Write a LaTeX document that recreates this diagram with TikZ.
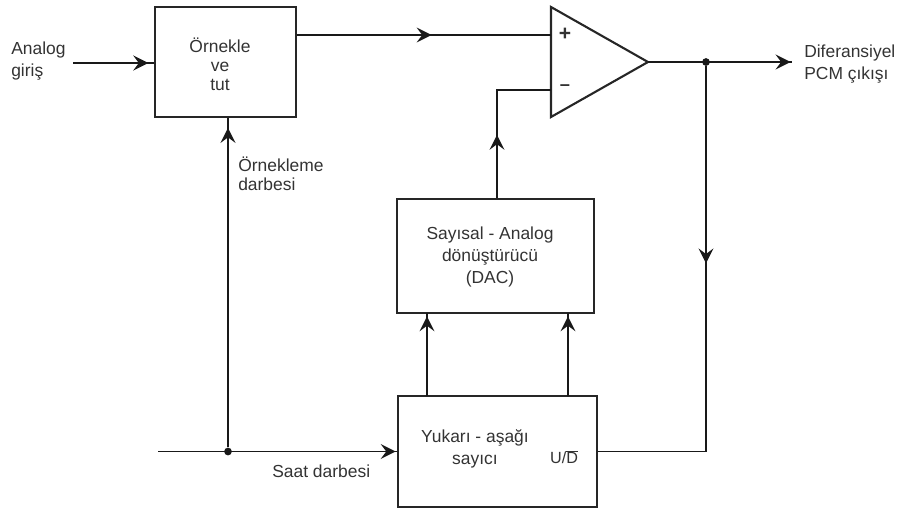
\documentclass[tikz,border=0pt]{standalone}
\usepackage{fontspec}
\setmainfont{Liberation Sans}
\usetikzlibrary{decorations.markings}
\tikzset{
  blok/.style={draw, line width=1.5pt, inner sep=0pt, black!85},
  etiket/.style={font=\fontsize{12.4pt}{15.6pt}\selectfont, text=black!80, inner sep=0pt},
  hat/.style={line width=1.3pt, black!90},
  okuc/.style={hat, postaction={decorate}, decoration={markings, mark=at position #1 with {\arrow[scale=2]{stealth}}}},
  nokta/.style={circle, fill=black!90, inner sep=0pt, minimum size=5.5pt},
}
\begin{document}
\begin{tikzpicture}[>=stealth, x=0.025cm, y=-0.025cm]
        \useasboundingbox (0,0) rectangle (897,514);

        % Blocks
        \node[blok, minimum width=3.525cm, minimum height=2.75cm] (ornekle) at (225.5,62) {};
        \node[blok, minimum width=4.925cm, minimum height=2.85cm] (dac) at (495.5,256) {};
        \node[blok, minimum width=4.975cm, minimum height=2.775cm] (sayici) at (497.5,451.5) {};

        % Block texts
        \node[etiket, align=center, font=\fontsize{12.4pt}{13.6pt}\selectfont] (ornekleyazi) at (220,64) {Örnekle\\ve\\tut};
        \node[etiket, align=center] (dacyazi) at (490,257) {Sayısal - Analog\\dönüştürücü\\(DAC)};
        \node[etiket, align=center] (sayiciyazi) at (475,449) {Yukarı - aşağı\\sayıcı};
        \node[etiket, font=\fontsize{11.5pt}{12pt}\selectfont] (ud) at (564,457) {U/$\overline{\mbox{D}}$};

        % Amplifier
        \coordinate (ampust) at (551,7);
        \coordinate (ampalt) at (551,117);
        \coordinate (ampcikis) at (648,62);
        \coordinate (ampart) at (551,35);
        \coordinate (ampeksi) at (551,90);
        \draw[line width=1.5pt, black!85, line join=miter] (ampust) -- (ampcikis) -- (ampalt) -- cycle;
        \node[etiket, font=\fontsize{15pt}{15pt}\bfseries\selectfont] (arti) at (565,34) {+};
        \node[etiket, font=\fontsize{13pt}{13pt}\bfseries\selectfont] (eksi) at (565,88) {--};

        % Free ends and junctions
        \coordinate (analog) at (73,63);
        \coordinate (ornekgiris) at (ornekle.west |- analog);
        \coordinate (saat) at (158,451.5);
        \coordinate (cikis) at (792,62);
        \node[nokta] (saatnokta) at (228,451.5) {};
        \node[nokta] (cikisnokta) at (706,62) {};

        % Connectors
        \draw[okuc=0.93] (analog) -- (ornekgiris);
        \draw[okuc=0.53] (ornekle.east |- ampart) -- (ampart);
        \draw[okuc=0.39] (dac.north -| 497,199) -- (497,90) -- (ampeksi);
        \draw[okuc=0.995] (saat) -- (sayici.west);
        \draw[okuc=0.97] (saatnokta) -- (saatnokta |- ornekle.south);
        \draw[okuc=0.96] (427,396) -- (427,313);
        \draw[okuc=0.96] (568,396) -- (568,313);
        \draw[okuc=0.99] (ampcikis) -- (cikis);
        \draw[okuc=0.4] (cikisnokta) -- (706,451.5) -- (sayici.east);

        % Labels
        \node[etiket, align=left, anchor=west] (analogyazi) at (11,61) {Analog\\giriş};
        \node[etiket, align=left, anchor=west, font=\fontsize{12.4pt}{13.6pt}\selectfont] (darbeyazi) at (238,174) {Örnekleme\\darbesi};
        \node[etiket, anchor=west] (saatyazi) at (272,471) {Saat darbesi};
        \node[etiket, align=left, anchor=west] (cikisyazi) at (804,64) {Diferansiyel\\PCM çıkışı};
\end{tikzpicture}
\end{document}
